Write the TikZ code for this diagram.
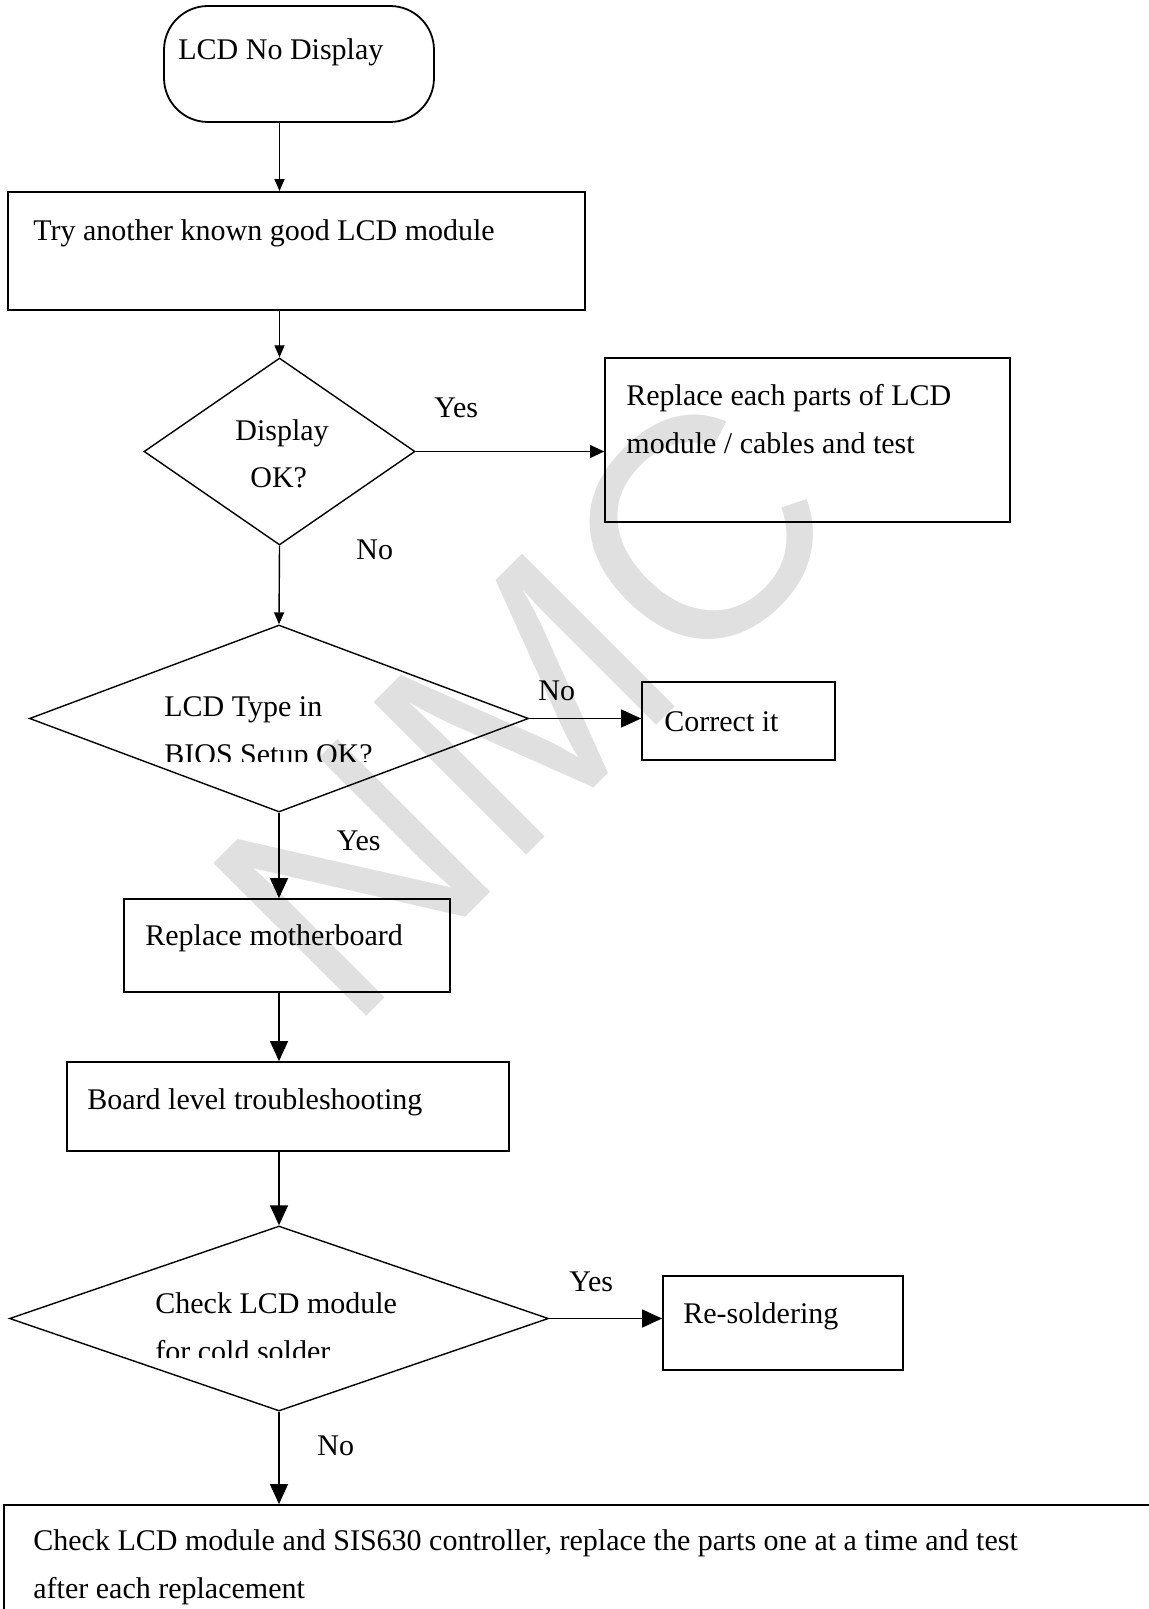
\documentclass[tikz,border=0pt]{standalone}
\usepackage{fontspec}
\setmainfont{Liberation Serif}
\newfontfamily\marksans{Liberation Sans}
\usetikzlibrary{arrows.meta,positioning,shapes}

\begin{document}
\begin{tikzpicture}[x=0.5pt,y=-0.5pt,
  box/.style={draw,rectangle,line width=0.9pt,inner sep=0pt},
  dia/.style={draw,diamond,line width=0.7pt,inner sep=0pt},
  txt/.style={inner sep=0pt,anchor=base west,align=left,font=\fontsize{15}{24}\selectfont},
  wmark/.style={rotate=45,inner sep=0pt,text=black!12,font=\marksans\fontsize{157}{160}\selectfont},
  arr/.style={-{Triangle[length=6pt,width=5pt]},line width=0.7pt},
  midarr/.style={-{Triangle[length=7pt,width=6.5pt]},line width=0.7pt},
  bigarr/.style={-{Triangle[length=10pt,width=9pt]},line width=0.7pt}]
\path[use as bounding box] (0,0) rectangle (1148,1609);
\node[wmark] (wm) at (525,705) {NMC};
% shapes
\node[box,rounded corners=22pt,minimum width=135pt,minimum height=58pt] (start) at (299,64) {};
\node[box,minimum width=288.5pt,minimum height=59pt] (try) at (296.5,251) {};
\node[dia,minimum width=135.5pt,minimum height=93.5pt] (disp) at (279.5,451.5) {};
\node[box,minimum width=202.5pt,minimum height=82pt] (parts) at (807.5,440) {};
\node[dia,minimum width=249.5pt,minimum height=93.5pt] (bios) at (279,718.5) {};
\node[box,minimum width=96.5pt,minimum height=39pt] (fix) at (738.5,721) {};
\node[box,minimum width=163pt,minimum height=46.5pt] (mb) at (287,945.5) {};
\node[box,minimum width=221pt,minimum height=44.5pt] (board) at (288,1106.5) {};
\node[dia,minimum width=269.5pt,minimum height=92.5pt] (cold) at (279,1318.5) {};
\node[box,minimum width=120pt,minimum height=47pt] (resold) at (783,1323) {};
\node[box,minimum width=583pt,minimum height=67.5pt] (last) at (587,1572.5) {};
% texts (multi-line ones sit on their last line)
\node[txt] (tstart) at (178,60) {LCD No Display};
\node[txt] (ttry) at (33,241) {Try another known good LCD module};
\node[txt] (tdisp) at (235,441) {Display};
\node[txt] (tok) at (250,487) {OK?};
\node[txt] (tparts) at (626,453) {Replace each parts of LCD\\module / cables and test};
\begin{scope}
\clip (0,0) rectangle (1148,761);
\node[txt] (tbios) at (164,764) {LCD Type in\\BIOS Setup OK?};
\end{scope}
\node[txt] (tfix) at (664,731) {Correct it};
\node[txt] (tmb) at (145,945) {Replace motherboard};
\node[txt] (tboard) at (87,1109) {Board level troubleshooting};
\begin{scope}
\clip (0,0) rectangle (1148,1357);
\node[txt] (tcold) at (155,1361) {Check LCD module\\for cold solder};
\end{scope}
\node[txt] (tresold) at (683,1323) {Re-soldering};
\node[txt] (tlast) at (33,1598) {Check LCD module and SIS630 controller, replace the parts one at a time and test\\after each replacement};
% labels
\node[txt] (y1) at (434,417) {Yes};
\node[txt] (n1) at (356,559) {No};
\node[txt] (n2) at (538,700) {No};
\node[txt] (y2) at (336.5,850) {Yes};
\node[txt] (y3) at (569,1291) {Yes};
\node[txt] (n3) at (317,1455) {No};
% arrows
\draw[arr] (start.south -| disp.north) -- (try.north -| disp.north);
\draw[arr] (try.south -| disp.north) -- (disp.north);
\draw[midarr] (disp.east) -- (parts.west |- disp.east);
\draw[arr] (disp.south) -- (bios.north);
\draw[bigarr] (bios.east) -- (fix.west |- bios.east);
\draw[bigarr] (bios.south) -- (mb.north -| bios.south);
\draw[bigarr] (mb.south -| bios.south) -- (board.north -| bios.south);
\draw[bigarr] (board.south -| bios.south) -- (cold.north);
\draw[bigarr] (cold.east) -- (resold.west |- cold.east);
\draw[bigarr] (cold.south) -- (last.north -| cold.south);
\end{tikzpicture}
\end{document}
